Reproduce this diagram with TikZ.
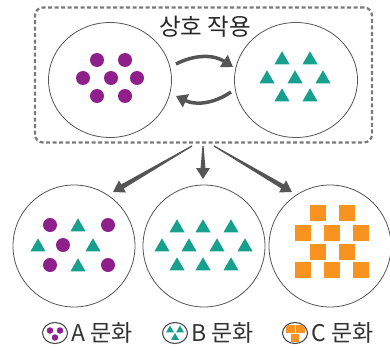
\documentclass[tikz,border=0pt]{standalone}
\usepackage{fontspec}
\newfontfamily\kr{Noto Sans CJK KR}
\usetikzlibrary{shapes.geometric,arrows.meta,calc}
\definecolor{cpurple}{HTML}{8E1F8B}
\definecolor{cteal}{HTML}{17A08E}
\definecolor{corange}{HTML}{F7931E}
\definecolor{cgray}{HTML}{555555}
\definecolor{cdash}{HTML}{7A7A7A}
\tikzset{
  world/.style={circle,draw=cgray,line width=0.8pt,minimum size=122pt,inner sep=0pt},
  topworld/.style={ellipse,draw=cgray,line width=0.8pt,minimum width=123pt,minimum height=115pt,inner sep=0pt},
  dotA/.style={circle,fill=cpurple,minimum size=14pt,inner sep=0pt},
  triB/.style={regular polygon,regular polygon sides=3,fill=cteal,minimum size=17.5pt,inner sep=0pt},
  sqC/.style={rectangle,fill=corange,minimum size=16pt,inner sep=0pt},
  bigarrow/.style={draw=cgray,line width=3.5pt,-{Triangle[length=11pt,width=14pt]}},
  titletext/.style={font=\kr\fontsize{23.5}{28}\selectfont,inner sep=0pt,text=black!85},
  legtext/.style={font=\kr\fontsize{23}{27}\selectfont,inner sep=0pt,text=black!80},
  iconring/.style={draw=black!70,line width=1.1pt},
  minidot/.style={circle,fill=cpurple,minimum size=6.5pt,inner sep=0pt},
  minitri/.style={regular polygon,regular polygon sides=3,fill=cteal,minimum size=9pt,inner sep=0pt},
  minisq/.style={rectangle,fill=corange,minimum size=8pt,inner sep=0pt}
}
\newcommand\taperarrow[2]{%
  \coordinate (tmpH) at ($(#2)!11pt!(#1)$);
  \fill[cgray] ($(#1)!0.6pt!90:(#2)$) -- ($(tmpH)!2.4pt!90:(#2)$) -- ($(tmpH)!7pt!90:(#2)$)
    -- (#2) -- ($(tmpH)!7pt!-90:(#2)$) -- ($(tmpH)!2.4pt!-90:(#2)$) -- ($(#1)!0.6pt!-90:(#2)$) -- cycle;}
\begin{document}
\begin{tikzpicture}[x=1pt,y=-1pt]
\useasboundingbox (0,0) rectangle (390,350);
% dashed box
\node[draw=cdash,line width=2.2pt,dash pattern=on 4pt off 2.5pt,rounded corners=8pt,
      minimum width=337pt,minimum height=135pt] (box) at (203.5,75) {};
% top circles
\node[topworld] (A) at (110,80) {};
\node[topworld] (B) at (296,80) {};
\node[titletext] (t) at (205,27) {상호 작용};
% dots A
\foreach \x/\y [count=\i] in {97/60,125/60,83/78,111/78,137/78,97/96,125/96}
  \node[dotA] (a\i) at (\x,\y) {};
% triangles B
\foreach \x/\y [count=\i] in {282/58,310/58,267/77,295/77,323/77,282/95,310/95}
  \node[triB] (b\i) at (\x,\y+2) {};
% interaction arrows
\coordinate (p1) at (176,64);
\coordinate (p2) at (233,67);
\coordinate (p3) at (231,92);
\coordinate (p4) at (176,96);
\draw[bigarrow] (p1) to[bend left=30] (p2);
\draw[bigarrow] (p3) to[bend left=30] (p4);
% bottom circles
\node[world] (L) at (74,246) {};
\node[world] (M) at (204,246) {};
\node[world] (R) at (330,246) {};
% down arrows
\coordinate (s1) at (192,146);
\coordinate (s2) at (203,146);
\coordinate (s3) at (214,146);
\coordinate (e1) at (113,192);
\coordinate (e2) at (203,179);
\coordinate (e3) at (292,192);
\taperarrow{s1}{e1}
\taperarrow{s2}{e2}
\taperarrow{s3}{e3}
% left mixed
\foreach \x/\y [count=\i] in {50/225,108/225,63/245,50/265,108/265}
  \node[dotA] (la\i) at (\x,\y) {};
\foreach \x/\y [count=\i] in {78/225,38/245,93/245,78/265}
  \node[triB] (lb\i) at (\x,\y+2) {};
% middle triangles
\foreach \x/\y [count=\i] in {177/226,203/226,231/226,162/245,189/245,217/245,245/245,177/264,203/264,231/264}
  \node[triB] (mb\i) at (\x,\y+2) {};
% right squares
\foreach \x/\y [count=\i] in {318/213,347/213,303/233,332/233,361/233,318/252,347/252,303/270,332/270,361/270}
  \node[sqC] (rc\i) at (\x,\y) {};
% legend
\node[draw=black!70,line width=1.1pt,ellipse,minimum width=25pt,minimum height=21pt,inner sep=0pt] (iA) at (55,333) {};
\node[draw=black!70,line width=1.1pt,ellipse,minimum width=25pt,minimum height=21pt,inner sep=0pt] (iB) at (175,333) {};
\node[draw=black!70,line width=1.1pt,ellipse,minimum width=25pt,minimum height=21pt,inner sep=0pt] (iC) at (295,333) {};
\node[minidot] (iA1) at ($(iA)+(-5,-2.5)$) {};
\node[minidot] (iA2) at ($(iA)+(5,-2.5)$) {};
\node[minidot] (iA3) at ($(iA)+(0,4.5)$) {};
\node[legtext,anchor=west] (tA) at (71,333) {A 문화};
\node[minitri] (iB1) at ($(iB)+(-5,-3)$) {};
\node[minitri] (iB2) at ($(iB)+(5,-3)$) {};
\node[minitri] (iB3) at ($(iB)+(0,4.5)$) {};
\node[legtext,anchor=west] (tB) at (191,333) {B 문화};
\begin{scope}
\clip (iC.center) ellipse [x radius=11.8pt, y radius=9.8pt];
\node[minisq,minimum width=9pt] (iC1) at ($(iC)+(-5,-4)$) {};
\node[minisq,minimum width=9pt] (iC2) at ($(iC)+(5,-4)$) {};
\node[minisq] (iC3) at ($(iC)+(0,4.5)$) {};
\end{scope}
\node[legtext,anchor=west] (tC) at (311,333) {C 문화};
\end{tikzpicture}
\end{document}
